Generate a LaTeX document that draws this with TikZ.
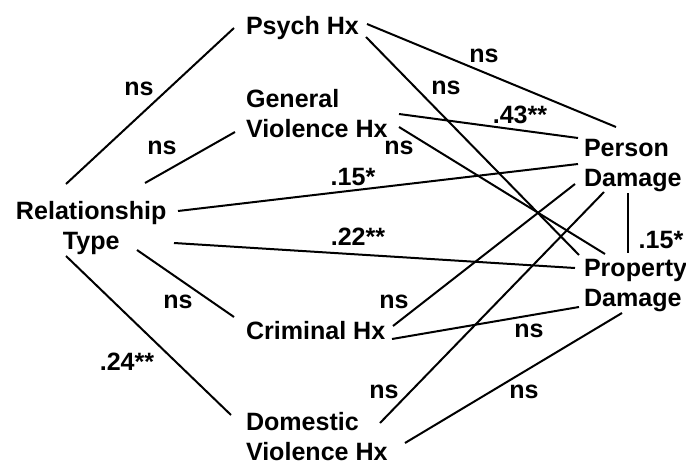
\documentclass[tikz,border=0pt]{standalone}
\usepackage{fontspec}
\setmainfont{Liberation Sans}
\usetikzlibrary{calc}

\tikzset{
  var/.style={anchor=north west, inner sep=0pt, align=left,
    font=\fontsize{18.8pt}{22.5pt}\selectfont\bfseries},
  coef/.style={inner sep=0pt, font=\fontsize{18.8pt}{22.5pt}\selectfont\bfseries},
}

\begin{document}
\begin{tikzpicture}[x=0.75pt,y=0.75pt,yscale=-1,xscale=1,line width=1.5pt]
\useasboundingbox (0,0) rectangle (686,464);

% Text Node
\node [var] (psych) at (245,15) {Psych Hx};
% Text Node
\node [var] (gen) at (245,88) {General\\Violence Hx};
% Text Node
\node [var, align=center] (rel) at (15,200) {Relationship\\Type};
% Text Node
\node [var] (crim) at (245,320) {Criminal Hx};
% Text Node
\node [var] (dom) at (245,411) {Domestic\\Violence Hx};
% Text Node
\node [var] (person) at (583,138) {Person\\Damage};
% Text Node
\node [var] (prop) at (583,258) {Property\\Damage};

%Straight Lines
\draw ($(rel.north west)+(51,-16)$) -- ($(psych.north west)+(-11,13)$);
\draw ($(rel.north west)+(130,-17)$) -- ($(gen.north west)+(-10,44)$);
\draw ($(rel.north west)+(163,11)$) -- ($(person.north west)+(-5,26)$);
\draw ($(rel.north west)+(159,43)$) -- ($(prop.north west)+(-8,10)$);
\draw ($(rel.north west)+(122,50)$) -- ($(crim.north west)+(-11,-3)$);
\draw ($(rel.north west)+(51,56)$) -- ($(dom.north west)+(-14,4)$);
%Straight Lines
\draw ($(psych.north west)+(122,9)$) -- ($(person.north west)+(33,-11)$);
\draw ($(psych.north west)+(121,22)$) -- ($(prop.north west)+(-4,-3)$);
\draw ($(gen.north west)+(154,26)$) -- ($(person.north west)+(-5,0)$);
\draw ($(gen.north west)+(154,39)$) -- ($(prop.north west)+(22,-4)$);
%Straight Lines
\draw ($(person.north west)+(-8,46)$) -- ($(crim.north west)+(148,6)$);
\draw ($(person.north west)+(21,54)$) -- ($(dom.north west)+(135,12)$);
\draw ($(person.north west)+(45,55)$) -- ($(prop.north west)+(45,-5)$);
\draw ($(crim.north west)+(147,19)$) -- ($(prop.north west)+(-4,49)$);
\draw ($(dom.north west)+(160,32)$) -- ($(prop.north west)+(39,55)$);

% Text Node
\node [coef] (relpsych) at (139,89) {ns};
\node [coef] (relgen) at (162,148) {ns};
\node [coef] (relperson) at (353,177) {.15*};
\node [coef] (relprop) at (358,237) {.22**};
\node [coef] (relcrim) at (178,302) {ns};
\node [coef] (reldom) at (127,362) {.24**};
% Text Node
\node [coef] (psychperson) at (484,56) {ns};
\node [coef] (psychprop) at (446,88) {ns};
\node [coef] (genperson) at (520,115) {.43**};
\node [coef] (genprop) at (399,148) {ns};
\node [coef] (personprop) at (661,240) {.15*};
% Text Node
\node [coef] (crimperson) at (394,302) {ns};
\node [coef] (crimprop) at (529,331) {ns};
\node [coef] (domperson) at (384,392) {ns};
\node [coef] (domprop) at (524,392) {ns};

\end{tikzpicture}
\end{document}
